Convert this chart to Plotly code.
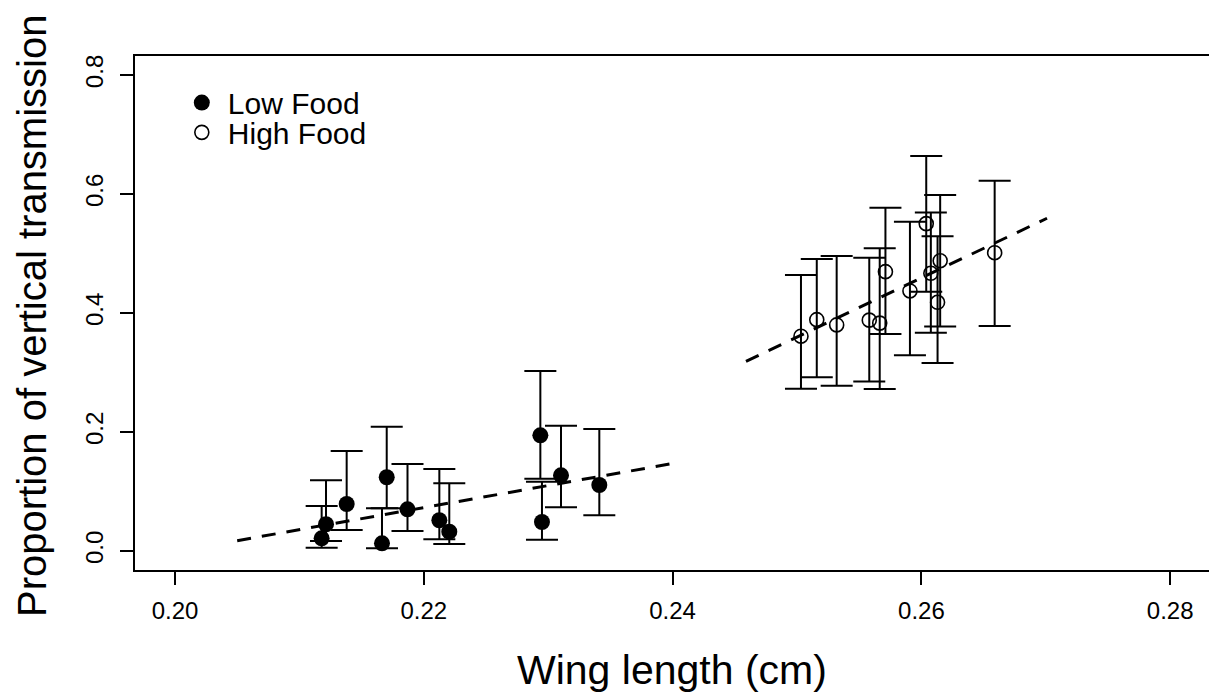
import plotly.graph_objects as go

# ---------------- data ----------------
low_x = [0.21179, 0.21214, 0.2138, 0.21664, 0.21702, 0.21869, 0.22125, 0.22205, 0.22937, 0.2295, 0.23103, 0.23411]
low_y = [0.0213, 0.0449, 0.079, 0.0129, 0.1239, 0.070, 0.0516, 0.0325, 0.1944, 0.0487, 0.1272, 0.1109]
low_lo = [0.0055, 0.0168, 0.0353, 0.0045, 0.0717, 0.0336, 0.0197, 0.0118, 0.1215, 0.019, 0.0734, 0.060]
low_hi = [0.0756, 0.119, 0.168, 0.072, 0.2089, 0.1462, 0.1378, 0.1137, 0.3025, 0.1165, 0.2106, 0.205]

high_x = [0.25032, 0.25159, 0.25319, 0.25581, 0.25665, 0.25711, 0.25908, 0.26039, 0.26076, 0.26151, 0.2613, 0.26589]
high_y = [0.361, 0.3888, 0.380, 0.388, 0.383, 0.4695, 0.437, 0.5502, 0.4667, 0.4879, 0.418, 0.5014]
high_lo = [0.2728, 0.292, 0.2779, 0.285, 0.2723, 0.3645, 0.329, 0.4358, 0.3669, 0.3775, 0.3158, 0.378]
high_hi = [0.4639, 0.4908, 0.496, 0.493, 0.509, 0.577, 0.5535, 0.6639, 0.569, 0.5983, 0.529, 0.6224]

low_fit_x = [0.205, 0.24]
low_fit_y = [0.0173, 0.147]
high_fit_x = [0.2459, 0.2701]
high_fit_y = [0.3188, 0.5593]

x_ticks = [0.20, 0.22, 0.24, 0.26, 0.28]
y_ticks = [0.0, 0.2, 0.4, 0.6, 0.8]

FONT = "Arial, Liberation Sans, sans-serif"

fig = go.Figure()

def err(y, lo, hi):
    return ([h - v for v, h in zip(y, hi)], [v - l for v, l in zip(y, lo)])

up, dn = err(low_y, low_lo, low_hi)
fig.add_trace(go.Scatter(
    x=low_x, y=low_y, mode="markers", name="Low Food", legend="legend",
    marker=dict(symbol="circle", size=16, color="black", line=dict(width=0)),
    error_y=dict(type="data", symmetric=False, array=up, arrayminus=dn,
                 color="black", thickness=2, width=16),
))
up, dn = err(high_y, high_lo, high_hi)
fig.add_trace(go.Scatter(
    x=high_x, y=high_y, mode="markers", name="High Food", legend="legend2",
    marker=dict(symbol="circle-open", size=14, color="black", line=dict(width=1.6, color="black")),
    error_y=dict(type="data", symmetric=False, array=up, arrayminus=dn,
                 color="black", thickness=2, width=16),
))
fig.add_trace(go.Scatter(x=low_fit_x, y=low_fit_y, mode="lines", showlegend=False,
                         line=dict(color="black", width=3, dash="14px,11px")))
fig.add_trace(go.Scatter(x=high_fit_x, y=high_fit_y, mode="lines", showlegend=False,
                         line=dict(color="black", width=3, dash="14px,11px")))

leg_common = dict(xanchor="left", yanchor="top",
                  font=dict(size=30, family=FONT, color="black"),
                  bgcolor="rgba(0,0,0,0)", borderwidth=0, itemwidth=42)

fig.update_layout(
    width=1209, height=696,
    margin=dict(l=135, r=0, t=56, b=126),
    paper_bgcolor="white", plot_bgcolor="white",
    font=dict(family=FONT, color="black"),
    showlegend=True,
    legend=dict(x=0.038, y=0.96, **leg_common),
    legend2=dict(x=0.038, y=0.902, **leg_common),
    xaxis=dict(range=[0.196785, 0.28312], showgrid=False, zeroline=False,
               showline=True, linecolor="black", linewidth=2, mirror=True,
               ticks="outside", ticklen=13, tickwidth=1.5, tickcolor="black",
               tickvals=x_ticks, tickformat=".2f", ticklabelstandoff=5,
               tickfont=dict(size=24, family=FONT, color="black")),
    yaxis=dict(range=[-0.032, 0.832], showgrid=False, zeroline=False,
               showline=True, linecolor="black", linewidth=2, mirror=False,
               ticks="outside", ticklen=13, tickwidth=1.5, tickcolor="black",
               tickvals=y_ticks, tickformat=".1f", tickangle=-90, ticklabelstandoff=7,
               tickfont=dict(size=24, family=FONT, color="black")),
    annotations=[
        dict(text="Wing length (cm)", xref="paper", yref="paper", x=0.5, y=0,
             xanchor="center", yanchor="middle", yshift=-100, showarrow=False,
             font=dict(size=41, family=FONT, color="black")),
        dict(text="Proportion of vertical transmission", xref="paper", yref="paper",
             x=0, y=0.5, xanchor="center", yanchor="middle", xshift=-103, yshift=-3,
             textangle=-90, showarrow=False,
             font=dict(size=40, family=FONT, color="black")),
    ],
)

fig.write_html("out.html")
